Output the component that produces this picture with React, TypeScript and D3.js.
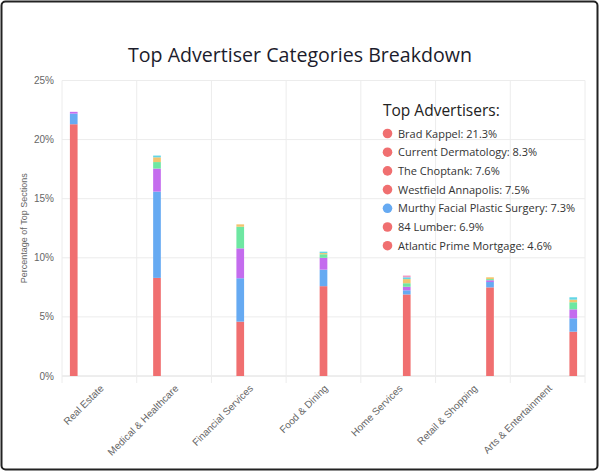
import React from "react";
import * as d3 from "d3";

const categories = [
  "Real Estate",
  "Medical & Healthcare",
  "Financial Services",
  "Food & Dining",
  "Home Services",
  "Retail & Shopping",
  "Arts & Entertainment",
];

// stacked segments by advertiser rank within each category (percent)
const rank1 = [21.3, 8.3, 4.6, 7.6, 6.9, 7.5, 3.75];
const rank2 = [0.9, 7.3, 3.67, 1.4, 0.35, 0.45, 1.13];
const rank3 = [0.15, 1.95, 2.53, 1.0, 0.3, 0.15, 0.76];
const rank4 = [0, 0.55, 1.83, 0.3, 0.3, 0.1, 0.6];
const rank5 = [0, 0.4, 0.2, 0.1, 0.35, 0.15, 0.22];
const rank6 = [0, 0.15, 0, 0.12, 0.15, 0, 0.2];
const rank7 = [0, 0, 0, 0, 0.15, 0, 0];

const seriesValues = [rank1, rank2, rank3, rank4, rank5, rank6, rank7];
const seriesColors = ["#f06f70", "#66aaf2", "#c46cee", "#6ee7a2", "#f3c46e", "#62d6e6", "#f29bc4"];

const yTicks = [0, 5, 10, 15, 20, 25];

const legendTitle = "Top Advertisers:";
const legendItems = [
  "Brad Kappel: 21.3%",
  "Current Dermatology: 8.3%",
  "The Choptank: 7.6%",
  "Westfield Annapolis: 7.5%",
  "Murthy Facial Plastic Surgery: 7.3%",
  "84 Lumber: 6.9%",
  "Atlantic Prime Mortgage: 4.6%",
];
const legendColorIdx = [0, 0, 0, 0, 1, 0, 0];

const W = 600;
const H = 472;
const left = 62;
const right = 585;
const top = 80.5;
const bottom = 376;

export default function App() {
  const x = d3.scaleBand<string>().domain(categories).range([left, right]).padding(0);
  const y = d3.scaleLinear().domain([0, 25]).range([bottom, top]);
  const bw = x.bandwidth();
  const slot = (bw * 0.8) / categories.length;
  const barW = slot * 0.9;

  const font = "'Liberation Sans', Arial, sans-serif";
  const titleFont = "'Open Sans', 'Noto Sans', sans-serif";

  const bars: React.ReactNode[] = [];
  categories.forEach((c, i) => {
    let acc = 0;
    const cx = (x(c) as number) + bw * 0.1 + slot * (i + 0.5);
    seriesValues.forEach((s, k) => {
      const v = s[i];
      if (v <= 0) return;
      const y0 = y(acc);
      const y1 = y(acc + v);
      acc += v;
      bars.push(
        <rect key={`b${i}-${k}`} x={cx - barW / 2} y={y1} width={barW} height={y0 - y1} fill={seriesColors[k]} />
      );
    });
  });

  return (
    <svg width={W} height={H} style={{ position: "absolute", left: 0, top: 0, background: "#fff" }}>
      <rect x={1.5} y={1.5} width={W - 4} height={H - 4} rx={4} fill="#fff" stroke="#222" strokeWidth={2} />
      <text x={300} y={62} textAnchor="middle" fontFamily={titleFont} fontSize={19.6} fill="#1c1c2c">
        Top Advertiser Categories Breakdown
      </text>

      {/* horizontal gridlines */}
      {yTicks.map((t) => (
        <line key={`h${t}`} x1={left} x2={right} y1={y(t)} y2={y(t)} stroke={t === 0 ? "#dcdcdc" : "#ececec"} strokeWidth={1} />
      ))}
      {/* vertical gridlines */}
      {categories.map((c) => (
        <line key={`v${c}`} x1={(x(c) as number)} x2={(x(c) as number)} y1={top} y2={bottom + 7} stroke="#ececec" />
      ))}
      <line x1={right} x2={right} y1={top} y2={bottom + 7} stroke="#ececec" />

      {/* y tick labels */}
      {yTicks.map((t) => (
        <text key={`yl${t}`} x={54} y={y(t) + 3.5} textAnchor="end" fontFamily={font} fontSize={10} fill="#666">
          {`${t}%`}
        </text>
      ))}
      <text
        transform={`translate(27,${(top + bottom) / 2}) rotate(-90)`}
        textAnchor="middle"
        fontFamily={font}
        fontSize={9}
        fill="#666"
      >
        Percentage of Top Sections
      </text>

      {/* x labels */}
      {categories.map((c) => {
        const cx = (x(c) as number) + bw / 2;
        return (
          <text
            key={`xl${c}`}
            transform={`translate(${cx + 5},${bottom + 13}) rotate(-45)`}
            textAnchor="end"
            fontFamily={font}
            fontSize={10}
            fill="#666"
          >
            {c}
          </text>
        );
      })}

      {bars}

      {/* legend */}
      <text x={383} y={116} fontFamily={titleFont} fontSize={15.5} fill="#222">
        {legendTitle}
      </text>
      {legendItems.map((l, i) => {
        const cy = 133.5 + i * 18.7;
        return (
          <g key={`lg${i}`}>
            <circle cx={387.5} cy={cy} r={4.8} fill={seriesColors[legendColorIdx[i]]} />
            <text x={398} y={cy + 4} fontFamily={titleFont} fontSize={11} fill="#333">
              {l}
            </text>
          </g>
        );
      })}
    </svg>
  );
}
